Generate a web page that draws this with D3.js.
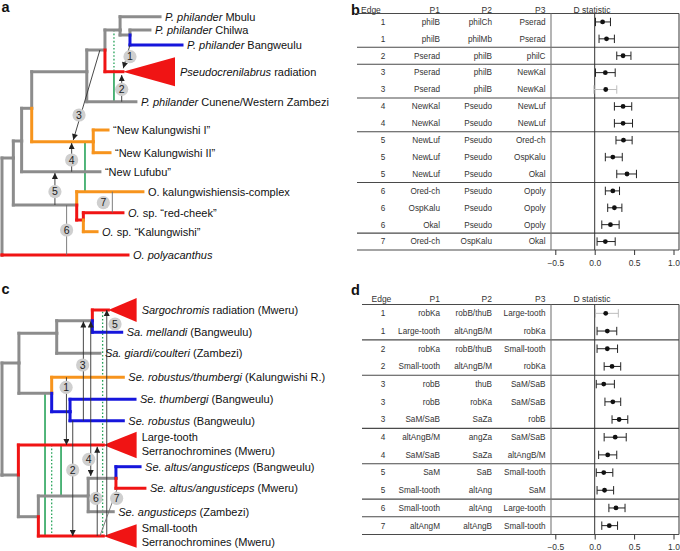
<!DOCTYPE html>
<html><head><meta charset="utf-8">
<script src="https://cdn.jsdelivr.net/npm/d3@7"></script>
<style>body{margin:0;background:#fff}svg{display:block;font-family:"Liberation Sans",Arial,Helvetica,sans-serif}</style>
</head><body><svg id="fig" width="680" height="551"></svg>
<script>
// ---------- Tree a: [id, parent, depth, position, colour, triangleHalf] ----------
const treeANodes = [
  ["root", null, 0, 12, "g"],
  ["A", "root", 0.063, 7.15, "g"],
  ["poly", "root", 0.7, 12, "r"],
  ["B", "A", 0.109, 6.3, "g"],
  ["OkN", "A", 0.415, 9.5, "g"],
  ["C", "B", 0.165, 4.665, "g"],
  ["Luf", "B", 0.544, 7.835, "g"],
  ["D", "C", 0.471, 2.835, "g"],
  ["NK", "C", 0.507, 6.335, "o"],
  ["NK1", "NK", 0.589, 5.75, "o"],
  ["NK2", "NK", 0.6, 6.885, "o"],
  ["E", "D", 0.572, 1.75, "g"],
  ["Cun", "D", 0.744, 4.335, "g"],
  ["F", "E", 0.656, 0.75, "g"],
  ["Pse", "E", 0.672, 2.835, "r", 0.725],
  ["Mb", "F", 0.878, 0.085, "g"],
  ["G", "F", 0.711, 1.0, "g"],
  ["Ch", "G", 0.822, 0.75, "g"],
  ["Ba", "G", 1.0, 1.5, "b"],
  ["Okc", "OkN", 0.783, 8.835, "o"],
  ["In", "OkN", 0.452, 10.25, "r"],
  ["rc", "In", 0.672, 9.885, "r"],
  ["Kal", "In", 0.528, 10.835, "o"]
];
const treeATriBase = 0.961;
// tip labels: [node, italic part, plain part]
const treeALabels = [
  ["Mb", "P. philander", " Mbulu"],
  ["Ch", "P. philander", " Chilwa"],
  ["Ba", "P. philander", " Bangweulu"],
  ["Pse", "Pseudocrenilabrus", " radiation"],
  ["Cun", "P. philander", " Cunene/Western Zambezi"],
  ["NK1", "", "\u201cNew Kalungwishi I\u201d"],
  ["NK2", "", "\u201cNew Kalungwishi II\u201d"],
  ["Luf", "", "\u201cNew Lufubu\u201d"],
  ["Okc", "", "O. kalungwishiensis-complex"],
  ["rc", "O.", " sp. \u201cred-cheek\u201d"],
  ["Kal", "O.", " sp. \u201cKalungwishi\u201d"],
  ["poly", "O. polyacanthus", ""]
];
// gene flow edges: [x1, y1, x2, y2, style]
const treeAFlows = [
  [0.711, 1.5, 0.674, 2.665, "arrow"],
  [0.665, 4.335, 0.665, 3.0, "arrow"],
  [0.544, 1.75, 0.396, 6.25, "arrow"],
  [0.387, 7.835, 0.387, 6.4, "arrow"],
  [0.294, 9.5, 0.294, 7.9, "arrow"],
  [0.359, 9.5, 0.359, 12, "plain"],
  [0.613, 8.835, 0.613, 9.885, "plain"]
];
const treeACircles = [[1, 0.711, 2.085], [2, 0.665, 3.715], [3, 0.428, 5.0], [4, 0.387, 7.25], [5, 0.294, 8.835], [6, 0.359, 10.75], [7, 0.563, 9.385]];
const treeAGreens = [[0.622, 0.75, 2.835, true], [0.622, 2.835, 4.335, false], [0.461, 6.335, 8.835, false]];

// ---------- Tree c ----------
const treeCNodes = [
  ["root", null, 0, 8.45, "g"],
  ["c1", "root", 0.094, 2.85, "g"],
  ["low", "root", 0.091, 8.45, "g"],
  ["sg", "c1", 0.304, 1.365, "g"],
  ["rob", "c1", 0.276, 4.365, "g"],
  ["sm", "sg", 0.502, 0.735, "g"],
  ["gia", "sg", 0.544, 2.365, "g"],
  ["Sar", "sm", 0.591, 0.2, "r", 0.6],
  ["mel", "sm", 0.665, 1.315, "b"],
  ["rk", "rob", 0.674, 3.565, "o"],
  ["rb", "rob", 0.378, 5.285, "b"],
  ["thu", "rb", 0.739, 4.665, "b"],
  ["robB", "rb", 0.674, 5.735, "b"],
  ["LT", "low", 0.563, 6.95, "r", 0.665],
  ["st", "low", 0.202, 10.535, "g"],
  ["alt", "st", 0.479, 9.5, "g"],
  ["ST", "st", 0.563, 11.5, "r", 0.585],
  ["aa", "alt", 0.633, 8.615, "g"],
  ["ang", "alt", 0.618, 10.285, "g"],
  ["altB", "aa", 0.767, 8.035, "b"],
  ["altM", "aa", 0.794, 9.115, "r"]
];
const treeCTriBase = 0.748;
const treeCLabels = [
  ["Sar", "Sargochromis", " radiation (Mweru)"],
  ["mel", "Sa. mellandi", " (Bangweulu)"],
  ["gia", "Sa. giardi/coulteri", " (Zambezi)"],
  ["rk", "Se. robustus/thumbergi", " (Kalungwishi R.)"],
  ["thu", "Se. thumbergi", " (Bangweulu)"],
  ["robB", "Se. robustus", " (Bangweulu)"],
  ["LT", "", "Large-tooth", "Serranochromines (Mweru)"],
  ["altB", "Se. altus/angusticeps", " (Bangweulu)"],
  ["altM", "Se. altus/angusticeps", " (Mweru)"],
  ["ang", "Se. angusticeps", " (Zambezi)"],
  ["ST", "", "Small-tooth", "Serranochromines (Mweru)"]
];
const treeCFlows = [
  [0.358, 3.565, 0.358, 6.95, "arrow"],
  [0.393, 5.735, 0.393, 11.5, "arrow"],
  [0.452, 5.735, 0.452, 0.775, "arrow"],
  [0.493, 8.5, 0.493, 0.775, "both"],
  [0.582, 11.5, 0.582, 0.2, "arrow"],
  [0.529, 11.5, 0.529, 7.035, "arrow"],
  [0.544, 11.5, 0.639, 9.165, "plain"]
];
const treeCCircles = [[1, 0.356, 4.065], [2, 0.393, 8.2], [3, 0.448, 2.95], [4, 0.482, 7.665], [5, 0.628, 0.9], [6, 0.522, 9.615], [7, 0.637, 9.615]];
const treeCGreens = [[0.239, 4.365, 11.5, false], [0.276, 6.95, 11.5, true], [0.328, 6.95, 9.5, false], [0.559, 0.285, 11.5, true]];

// ---------- Panel b ----------
const bEdge = [1, 1, 2, 3, 3, 4, 4, 5, 5, 5, 6, 6, 6, 7];
const bP1 = ["philB", "philB", "Pserad", "Pserad", "Pserad", "NewKal", "NewKal", "NewLuf", "NewLuf", "NewLuf", "Ored-ch", "OspKalu", "Okal", "Ored-ch"];
const bP2 = ["philCh", "philMb", "philB", "philB", "philB", "Pseudo", "Pseudo", "Pseudo", "Pseudo", "Pseudo", "Pseudo", "Pseudo", "Pseudo", "OspKalu"];
const bP3 = ["Pserad", "Pserad", "philC", "NewKal", "NewKal", "NewLuf", "NewLuf", "Ored-ch", "OspKalu", "Okal", "Opoly", "Opoly", "Opoly", "Okal"];
const bD = [0.10, 0.15, 0.36, 0.135, 0.14, 0.36, 0.36, 0.365, 0.23, 0.41, 0.23, 0.25, 0.20, 0.135];
const bLo = [0.01, 0.055, 0.28, 0.01, -0.01, 0.25, 0.25, 0.27, 0.135, 0.28, 0.135, 0.165, 0.09, 0.03];
const bHi = [0.20, 0.25, 0.46, 0.26, 0.28, 0.47, 0.48, 0.475, 0.35, 0.53, 0.315, 0.345, 0.31, 0.26];
const bFaint = [false, false, false, false, true, false, false, false, false, false, false, false, false, false];

// ---------- Panel d ----------
const dEdge = [1, 1, 2, 2, 3, 3, 3, 4, 4, 5, 5, 6, 7];
const dP1 = ["robKa", "Large-tooth", "robKa", "Small-tooth", "robB", "robB", "SaM/SaB", "altAngB/M", "SaM/SaB", "SaM", "Small-tooth", "Small-tooth", "altAngM"];
const dP2 = ["robB/thuB", "altAngB/M", "robB/thuB", "altAngB/M", "thuB", "robKa", "SaZa", "angZa", "SaZa", "SaB", "altAng", "altAng", "altAngB"];
const dP3 = ["Large-tooth", "robKa", "Small-tooth", "robKa", "SaM/SaB", "SaM/SaB", "robB", "SaM/SaB", "altAngB/M", "Small-tooth", "SaM", "Large-tooth", "Small-tooth"];
const dD = [0.14, 0.16, 0.16, 0.22, 0.115, 0.23, 0.31, 0.26, 0.165, 0.115, 0.125, 0.27, 0.185];
const dLo = [0.01, 0.03, 0.03, 0.12, 0.02, 0.13, 0.22, 0.12, 0.05, 0.02, 0.03, 0.18, 0.09];
const dHi = [0.30, 0.28, 0.29, 0.33, 0.25, 0.33, 0.42, 0.40, 0.28, 0.23, 0.24, 0.385, 0.29];
const dFaint = [true, false, false, false, false, false, false, false, false, false, false, false, false];

const headers = ["Edge", "P1", "P2", "P3", "D statistic"];
const dTicks = [-0.5, 0, 0.5, 1.0];

const COL = {g: "#8c8c8c", r: "#f01414", b: "#1616dc", o: "#f7941d"};
const GREEN = "#27a35a";

const svg = d3.select("#fig");
const defs = svg.append("defs");
defs.append("marker").attr("id", "ah").attr("viewBox", "0 0 10 10").attr("refX", 10).attr("refY", 5)
  .attr("markerUnits", "userSpaceOnUse").attr("markerWidth", 7).attr("markerHeight", 6)
  .attr("orient", "auto-start-reverse")
  .append("path").attr("d", "M0,0L10,5L0,10z").attr("fill", "#222");

const xTree = d3.scaleLinear().domain([0, 1]).range([2, 182]);
const yTreeA = d3.scaleLinear().domain([0, 12]).range([15, 255]);
const yTreeC = d3.scaleLinear().domain([0, 12]).range([306, 546]);

function drawTree(nodes, triBase, labels, flows, circles, greens, ys) {
  const g = svg.append("g");
  const byId = new Map(nodes.map(n => [n[0], n]));
  // green lines
  greens.forEach(d => {
    g.append("line").attr("x1", xTree(d[0])).attr("x2", xTree(d[0]))
      .attr("y1", ys(d[1])).attr("y2", ys(d[2]))
      .attr("stroke", GREEN).attr("stroke-width", d[3] ? 1.3 : 1.6)
      .attr("stroke-dasharray", d[3] ? "1.6,2" : null);
  });
  const segs = [];
  nodes.forEach(n => {
    if (!n[1]) return;
    const p = byId.get(n[1]);
    segs.push({c: n[4], x1: xTree(p[2]), x2: xTree(p[2]), y1: ys(p[3]), y2: ys(n[3])});
    segs.push({c: n[4], x1: xTree(p[2]), x2: xTree(n[2]), y1: ys(n[3]), y2: ys(n[3])});
  });
  segs.sort((a, b) => (a.c === "g" ? 0 : 1) - (b.c === "g" ? 0 : 1));
  g.selectAll(".seg").data(segs).enter().append("line")
    .attr("x1", d => d.x1).attr("x2", d => d.x2).attr("y1", d => d.y1).attr("y2", d => d.y2)
    .attr("stroke", d => COL[d.c]).attr("stroke-width", 3).attr("stroke-linecap", "square");
  nodes.filter(n => n[5]).forEach(n => {
    const pts = [[xTree(n[2]), ys(n[3])], [xTree(triBase), ys(n[3] - n[5])], [xTree(triBase), ys(n[3] + n[5])]];
    g.append("polygon").attr("points", pts.map(p => p.join(",")).join(" ")).attr("fill", COL.r);
  });
  // flows
  flows.forEach(f => {
    const l = g.append("line").attr("x1", xTree(f[0])).attr("y1", ys(f[1]))
      .attr("x2", xTree(f[2])).attr("y2", ys(f[3]))
      .attr("stroke", f[4] === "plain" ? "#6e6e6e" : "#333").attr("stroke-width", 0.9);
    if (f[4] !== "plain") l.attr("marker-end", "url(#ah)");
    if (f[4] === "both") l.attr("marker-start", "url(#ah)");
  });
  // circles
  circles.forEach(c => {
    g.append("circle").attr("cx", xTree(c[1])).attr("cy", ys(c[2])).attr("r", 6.6).attr("fill", "#cfcfcf");
    g.append("text").attr("x", xTree(c[1])).attr("y", ys(c[2])).attr("dy", "0.36em")
      .attr("text-anchor", "middle").attr("font-size", 10.5).attr("fill", "#222").text(c[0]);
  });
  // labels
  labels.forEach(l => {
    const n = byId.get(l[0]);
    const x = (n[5] ? xTree(triBase) : xTree(n[2])) + 5;
    if (l.length === 4) {
      g.append("text").attr("x", x).attr("y", ys(n[3]) - 7.5).attr("dy", "0.35em").attr("font-size", 11).attr("fill", "#111").text(l[2]);
      g.append("text").attr("x", x).attr("y", ys(n[3]) + 6.5).attr("dy", "0.35em").attr("font-size", 11).attr("fill", "#111").text(l[3]);
      return;
    }
    const t = g.append("text").attr("x", x).attr("y", ys(n[3])).attr("dy", "0.35em").attr("font-size", 11).attr("fill", "#111");
    if (l[1]) t.append("tspan").attr("font-style", "italic").text(l[1]);
    if (l[2]) t.append("tspan").text(l[2]);
  });
}

drawTree(treeANodes, treeATriBase, treeALabels, treeAFlows, treeACircles, treeAGreens, yTreeA);
drawTree(treeCNodes, treeCTriBase, treeCLabels, treeCFlows, treeCCircles, treeCGreens, yTreeC);

// panel letters
[["a", 1.5, 12], ["b", 351, 15], ["c", 1.5, 294], ["d", 351, 295]].forEach(p => {
  svg.append("text").attr("x", p[1]).attr("y", p[2]).attr("font-size", 14.5).attr("font-weight", "bold").attr("fill", "#111").text(p[0]);
});

function dPanel(o) {
  const g = svg.append("g");
  const n = o.edge.length;
  const x = d3.scaleLinear().domain([-0.5, 1]).range([555.3, 673.5]);
  const band = d3.scaleBand().domain(d3.range(n)).range([o.top, o.bottom]);
  const cy = i => band(i) + band.bandwidth() / 2;
  const R = 679, SEP = 551;
  const stroke = "#4a4a4a";
  // header
  const hx = [o.edgeX, 440, 492, 545.5, 592];
  const ha = ["start", "end", "end", "end", "middle"];
  headers.forEach((h, i) => g.append("text").attr("x", hx[i]).attr("y", o.headY).attr("font-size", 8.5)
    .attr("text-anchor", ha[i]).attr("fill", "#333").text(h));
  // horizontal lines
  const ys = [o.top, o.bottom];
  for (let i = 1; i < n; i++) if (o.edge[i] !== o.edge[i - 1]) ys.push(band(i));
  ys.forEach(y => g.append("line").attr("x1", o.left).attr("x2", R).attr("y1", y).attr("y2", y)
    .attr("stroke", stroke).attr("stroke-width", 1.1));
  g.append("line").attr("x1", SEP).attr("x2", SEP).attr("y1", o.top).attr("y2", o.bottom).attr("stroke", "#777").attr("stroke-width", 1.1);
  g.append("line").attr("x1", R).attr("x2", R).attr("y1", o.top).attr("y2", o.bottom).attr("stroke", stroke).attr("stroke-width", 1.1);
  g.append("line").attr("x1", x(0)).attr("x2", x(0)).attr("y1", o.top).attr("y2", o.bottom).attr("stroke", "#333").attr("stroke-width", 1);
  // rows
  const cols = [[o.edge, 383, "middle"], [o.p1, 440, "end"], [o.p2, 492, "end"], [o.p3, 545.5, "end"]];
  cols.forEach(c => {
    g.selectAll(null).data(c[0]).enter().append("text")
      .attr("x", c[1]).attr("y", (d, i) => cy(i)).attr("dy", "0.35em")
      .attr("text-anchor", c[2]).attr("font-size", 8.2).attr("fill", "#333").text(d => d);
  });
  const rows = d3.range(n).map(i => ({i, d: o.D[i], lo: o.lo[i], hi: o.hi[i], faint: o.faint[i]}));
  const eg = g.selectAll(".eb").data(rows).enter().append("g");
  const col = d => d.faint ? "#bdbdbd" : "#222";
  eg.append("line").attr("x1", d => x(d.lo)).attr("x2", d => x(d.hi)).attr("y1", d => cy(d.i)).attr("y2", d => cy(d.i)).attr("stroke", col).attr("stroke-width", 1);
  eg.append("line").attr("x1", d => x(d.lo)).attr("x2", d => x(d.lo)).attr("y1", d => cy(d.i) - 4.2).attr("y2", d => cy(d.i) + 4.2).attr("stroke", col).attr("stroke-width", 1);
  eg.append("line").attr("x1", d => x(d.hi)).attr("x2", d => x(d.hi)).attr("y1", d => cy(d.i) - 4.2).attr("y2", d => cy(d.i) + 4.2).attr("stroke", col).attr("stroke-width", 1);
  eg.append("circle").attr("cx", d => x(d.d)).attr("cy", d => cy(d.i)).attr("r", 2.4).attr("fill", "#111");
  // axis
  const ax = g.append("g").attr("transform", `translate(0,${o.bottom})`)
    .call(d3.axisBottom(x).tickValues(dTicks).tickFormat(d3.format(".1f")).tickSize(5).tickPadding(4.5));
  ax.select(".domain").remove();
  ax.selectAll("line").attr("stroke", "#333");
  ax.selectAll("text").attr("font-size", 8.5).attr("fill", "#333").attr("font-family", '"Liberation Sans",Arial,sans-serif');
}

dPanel({edge: bEdge, p1: bP1, p2: bP2, p3: bP3, D: bD, lo: bLo, hi: bHi, faint: bFaint,
  top: 13.5, bottom: 250, left: 357, headY: 12.5, edgeX: 361});
dPanel({edge: dEdge, p1: dP1, p2: dP2, p3: dP3, D: dD, lo: dLo, hi: dHi, faint: dFaint,
  top: 304.5, bottom: 534.5, left: 362, headY: 302, edgeX: 371.5});
</script></body></html>
